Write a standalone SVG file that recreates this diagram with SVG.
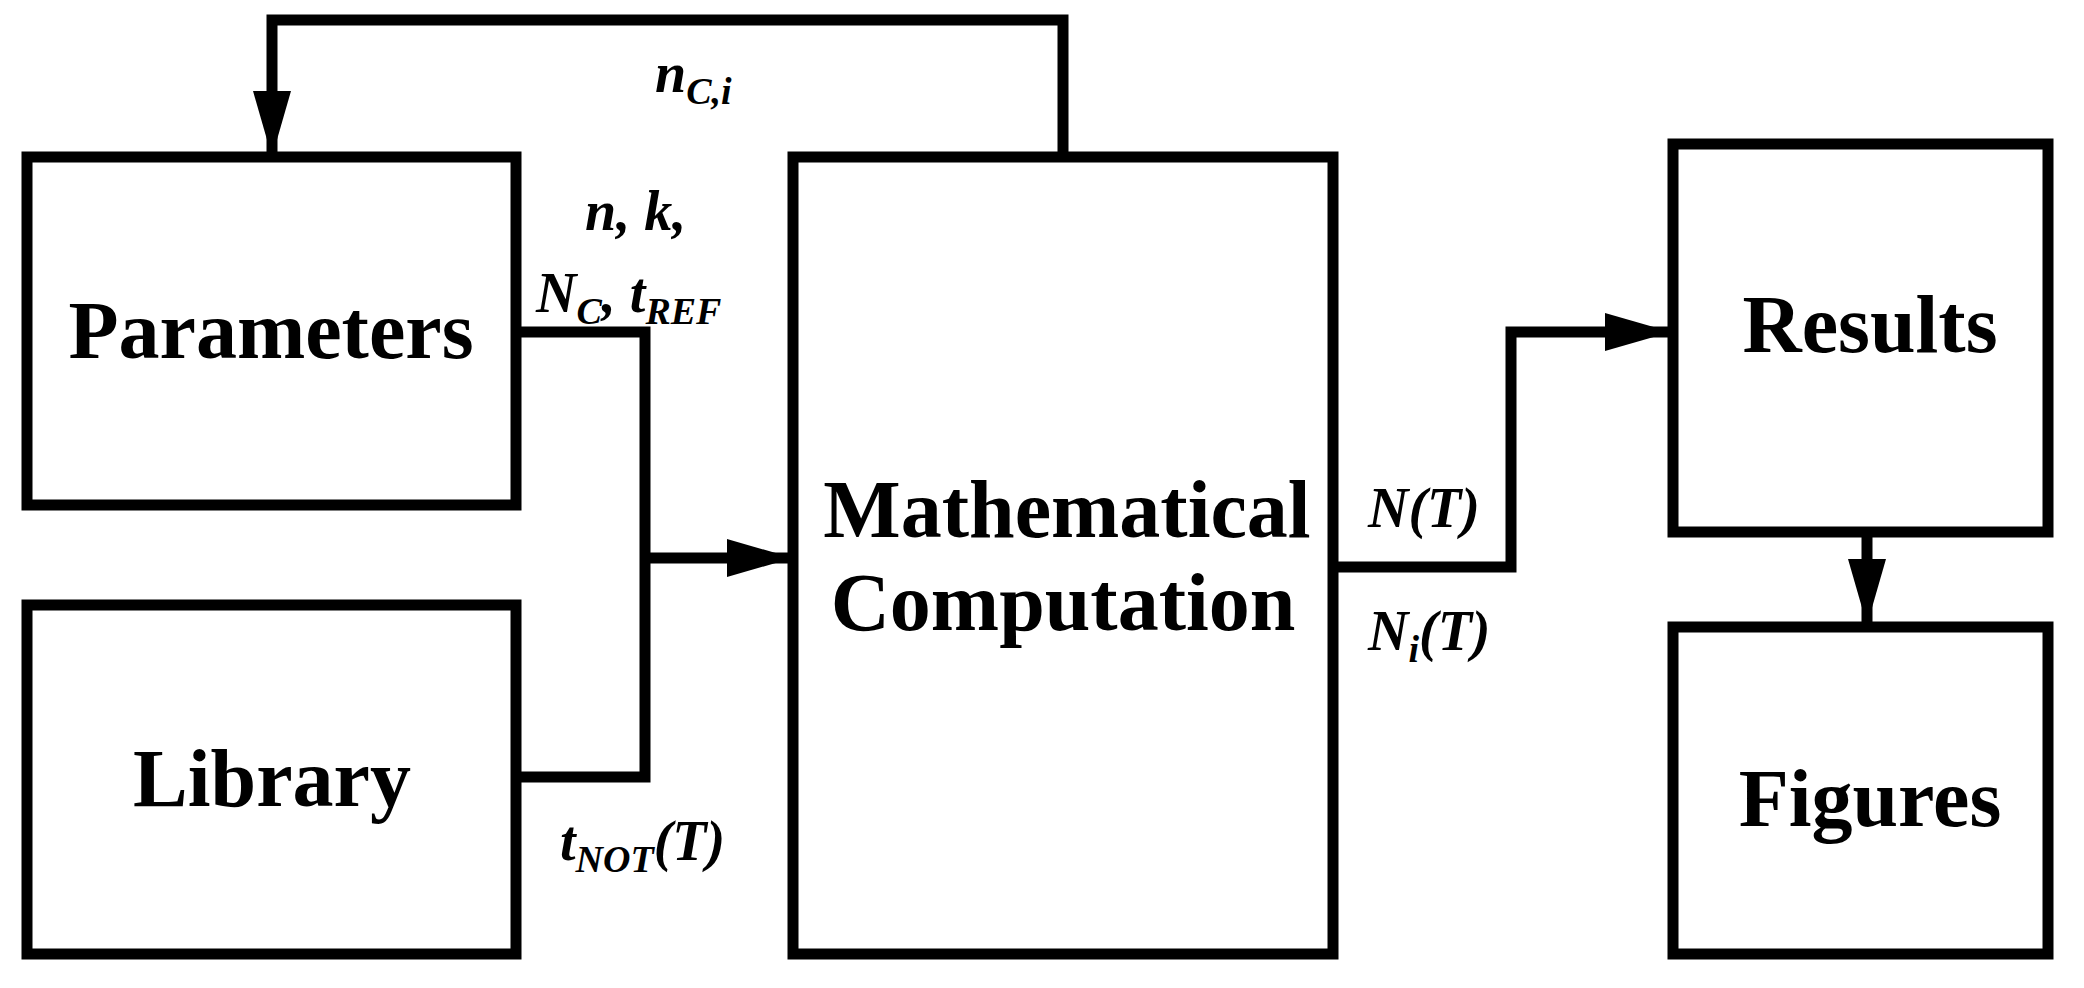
<svg xmlns="http://www.w3.org/2000/svg" width="2084" height="988" viewBox="0 0 2084 988">
<defs>
<marker id="ah" markerUnits="userSpaceOnUse" markerWidth="66" markerHeight="38" refX="64" refY="19" orient="auto" viewBox="0 0 66 38"><path d="M0,0 L66,19 L0,38 Z" fill="#000"/></marker>
<style>
.box{fill:#fff;stroke:#000;stroke-width:11}
.ln{fill:none;stroke:#000;stroke-width:11}
.t{font-family:"Liberation Serif",serif;font-weight:bold;font-size:82px;text-anchor:middle}
.l{font-family:"Liberation Serif",serif;font-weight:bold;font-style:italic;font-size:56px}
.s{font-size:38px}
</style>
</defs>
<rect width="2084" height="988" fill="#fff"/>
<g id="connectors">
<polyline class="ln" points="1063,157 1063,20 272,20 272,155" marker-end="url(#ah)"/>
<polyline class="ln" points="516,332 645,332 645,777 516,777"/>
<polyline class="ln" points="645,558 791,558" marker-end="url(#ah)"/>
<polyline class="ln" points="1333,567 1511,567 1511,332 1669,332" marker-end="url(#ah)"/>
<polyline class="ln" points="1867,532 1867,623" marker-end="url(#ah)"/>
</g>
<g id="parameters"><rect class="box" x="27" y="157" width="489" height="348"/><text class="t" x="271" y="358">Parameters</text></g>
<g id="library"><rect class="box" x="27" y="605" width="489" height="349"/><text class="t" x="272" y="806">Library</text></g>
<g id="computation"><rect class="box" x="793" y="157" width="540" height="797"/><text class="t" x="1067" y="537">Mathematical</text><text class="t" x="1063" y="630">Computation</text></g>
<g id="results"><rect class="box" x="1673" y="144" width="375" height="388"/><text class="t" x="1870" y="352">Results</text></g>
<g id="figures"><rect class="box" x="1673" y="627" width="375" height="327"/><text class="t" x="1870" y="826">Figures</text></g>
<g id="labels">
<text class="l" x="655" y="92">n<tspan class="s" dy="12">C,i</tspan></text>
<text class="l" x="585" y="230">n, k,</text>
<text class="l" x="536" y="312">N<tspan class="s" dy="12">C</tspan><tspan dy="-12">, t</tspan><tspan class="s" dy="12">REF</tspan></text>
<text class="l" x="560" y="860">t<tspan class="s" dy="12">NOT</tspan><tspan dy="-12">(T)</tspan></text>
<text class="l" x="1368" y="527">N(T)</text>
<text class="l" x="1368" y="650">N<tspan class="s" dy="12">i</tspan><tspan dy="-12">(T)</tspan></text>
</g>
</svg>
